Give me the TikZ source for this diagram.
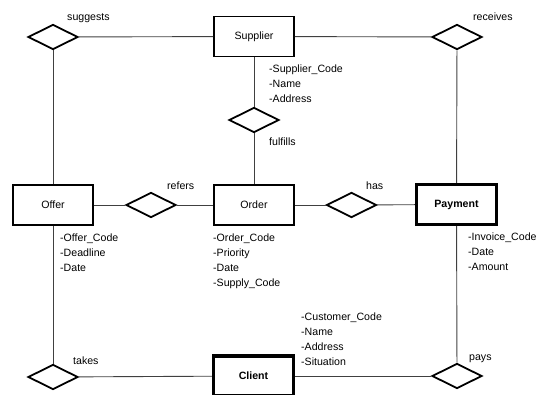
\documentclass[tikz,border=0pt]{standalone}
\usepackage{fontspec}
\setmainfont{Liberation Sans}
\usetikzlibrary{shapes.geometric}
\begin{document}
\begin{tikzpicture}[x=1pt,y=-1pt,
  every node/.style={font=\fontsize{10.6}{15}\selectfont},
  entity/.style={draw=black,line width=1.8pt,minimum width=80pt,minimum height=40pt,inner sep=0pt},
  strongentity/.style={entity,line width=3.2pt,font=\fontsize{10.6}{15}\selectfont\bfseries},
  relation/.style={draw=black,line width=1.8pt,diamond,minimum width=50pt,minimum height=25pt,inner sep=0pt,aspect=2},
  rellabel/.style={anchor=base west,inner sep=0pt},
  attrs/.style={anchor=north west,align=left,inner sep=0pt},
  link/.style={draw=black!75,line width=0.9pt}]
\useasboundingbox (0,0) rectangle (546,395);
\begin{scope}
\clip (0,0) rectangle (546,395);

% relationships
\node[relation] (suggests) at (53,37) {};
\node[relation] (receives) at (457,37) {};
\node[relation] (fulfills) at (254,120) {};
\node[relation] (refers) at (151,205) {};
\node[relation] (has) at (351.5,205) {};
\node[relation] (takes) at (53,377) {};
\node[relation] (pays) at (457,376) {};

% entities
\node[entity] (supplier) at (254,36.5) {Supplier};
\node[entity] (offer) at (53,205) {Offer};
\node[entity] (order) at (254,205) {Order};
\node[strongentity] (payment) at (456.5,204.5) {Payment};
\node[strongentity] (client) at (253.5,376) {Client};

% connectors
\draw[link] (suggests) -- (supplier);
\draw[link] (supplier) -- (receives);
\draw[link] (suggests) -- (offer);
\draw[link] (supplier) -- (fulfills);
\draw[link] (fulfills) -- (order);
\draw[link] (offer) -- (refers);
\draw[link] (refers) -- (order);
\draw[link] (order) -- (has);
\draw[link] (has) -- (payment);
\draw[link] (receives) -- (payment);
\draw[link] (offer) -- (takes);
\draw[link] (takes) -- (client);
\draw[link] (client) -- (pays);
\draw[link] (payment) -- (pays);

% relationship names
\node[rellabel] (lsuggests) at (67,21) {suggests};
\node[rellabel] (lreceives) at (473,21) {receives};
\node[rellabel] (lfulfills) at (269,145.5) {fulfills};
\node[rellabel] (lrefers) at (167,189.5) {refers};
\node[rellabel] (lhas) at (366,189.5) {has};
\node[rellabel] (ltakes) at (73,364) {takes};
\node[rellabel] (lpays) at (469,360.5) {pays};

% attribute lists
\node[attrs] (asupplier) at (269,65) {-Supplier\_Code\\-Name\\-Address};
\node[attrs] (aoffer) at (60,234) {-Offer\_Code\\-Deadline\\-Date};
\node[attrs] (aorder) at (213,234) {-Order\_Code\\-Priority\\-Date\\-Supply\_Code};
\node[attrs] (apayment) at (468,233) {-Invoice\_Code\\-Date\\-Amount};
\node[attrs] (aclient) at (301,313) {-Customer\_Code\\-Name\\-Address\\-Situation};
\end{scope}
\end{tikzpicture}
\end{document}
